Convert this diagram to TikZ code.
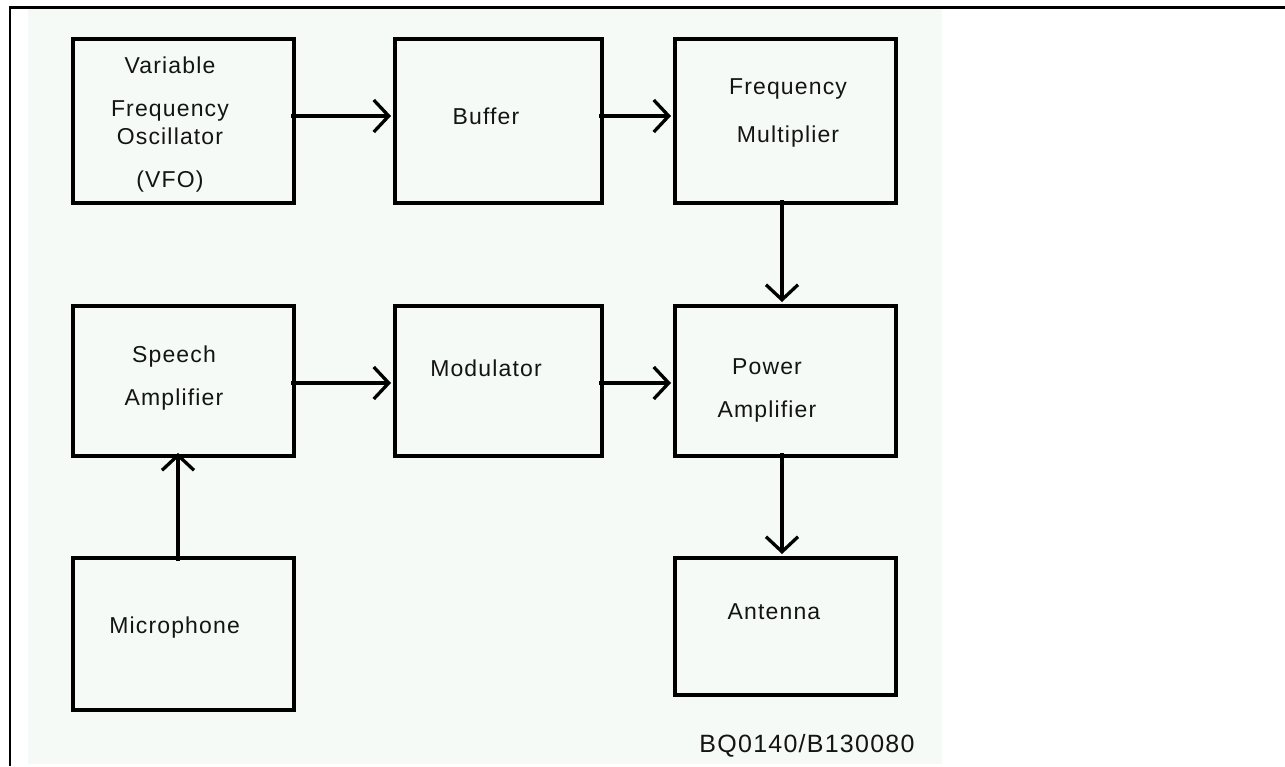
\documentclass[tikz,border=0pt]{standalone}
\usepackage{fontspec}
\setmainfont{Liberation Sans}[LetterSpace=5]
\usetikzlibrary{arrows.meta}
\definecolor{bgshade}{RGB}{245,250,247}
\definecolor{txtgray}{RGB}{20,20,20}

\begin{document}
\begin{tikzpicture}[x=1pt, y=-1pt,
                block/.style = {shape=rectangle, draw, line width=4pt,
                        minimum width=221pt, inner sep=0pt},
                lbl/.style = {align=center, text=txtgray, inner sep=0pt,
                        font=\fontsize{23}{28}\selectfont},
                arr/.style = {line width=3.3pt, line join=round,
                        -{Straight Barb[length=15pt,width=32pt]},
                        shorten <=-5pt, shorten >=2pt}]
    \useasboundingbox (0,0) rectangle (1285,766);
    \fill[bgshade] (28,8.5) rectangle (942,763.5);
    \draw[line width=2.4pt] (9,7.5) -- (1285,7.5);
    \draw[line width=2.4pt] (10,7.5) -- (10,766);

    % blocks
    \node[block, minimum height=164pt] (vfo) at (183.5,121) {};
    \node[block, minimum width=207pt, minimum height=164pt] (buf) at (498.5,121) {};
    \node[block, minimum height=164pt] (fm) at (785.5,121) {};
    \node[block, minimum height=150pt] (spk) at (183.5,381) {};
    \node[block, minimum width=207pt, minimum height=150pt] (mod) at (498.5,381) {};
    \node[block, minimum height=150pt] (pa) at (785.5,381) {};
    \node[block, minimum height=152pt] (mic) at (183.5,634) {};
    \node[block, minimum height=137pt] (ant) at (785.5,626.5) {};

    % texts
    \node[lbl] (vfo-txt) at (170,124.3) {Variable\\[15pt]Frequency\\Oscillator\\[15pt](VFO)};
    \node[lbl] (buf-txt) at (486,116) {Buffer};
    \node[lbl] (fm-txt) at (788,113.2) {Frequency\\[20pt]Multiplier};
    \node[lbl] (spk-txt) at (174,377.7) {Speech\\[15pt]Amplifier};
    \node[lbl] (mod-txt) at (486,368) {Modulator};
    \node[lbl] (pa-txt) at (767,390.8) {Power\\[15pt]Amplifier};
    \node[lbl] (mic-txt) at (174.6,628) {Microphone};
    \node[lbl] (ant-txt) at (774,612) {Antenna};
    \node[lbl, font=\fontsize{25}{30}\selectfont] (code) at (807,746) {BQ0140/B130080};

    % signal flow
    \draw[arr] ([yshift=5pt]vfo.east) -- ([yshift=5pt]buf.west);
    \draw[arr] ([yshift=5pt]buf.east) -- ([yshift=5pt]fm.west);
    \draw[arr] ([xshift=-3.5pt]fm.south) -- ([xshift=-3.5pt]pa.north);
    \draw[arr] ([yshift=-2pt]spk.east) -- ([yshift=-2pt]mod.west);
    \draw[arr] ([yshift=-2pt]mod.east) -- ([yshift=-2pt]pa.west);
    \draw[arr, shorten >=-5pt] ([xshift=-5.5pt]mic.north) -- ([xshift=-5.5pt]spk.south);
    \draw[arr] ([xshift=-3.5pt]pa.south) -- ([xshift=-3.5pt]ant.north);
\end{tikzpicture}
\end{document}
